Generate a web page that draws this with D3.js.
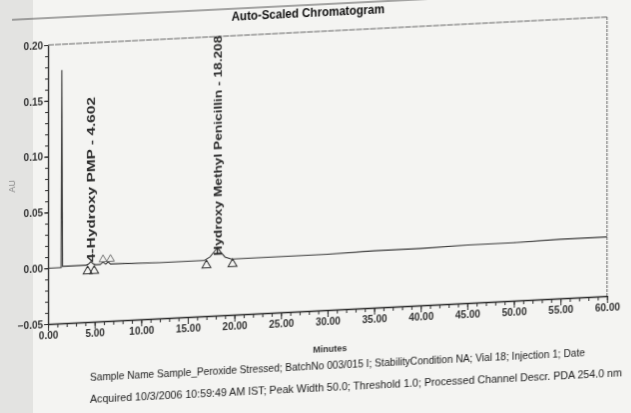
<!DOCTYPE html>
<html><head><meta charset="utf-8">
<script src="https://cdn.jsdelivr.net/npm/d3@7"></script>
<style>html,body{margin:0;padding:0;background:#f4f4f2;} svg{display:block}</style>
</head><body>
<svg id="chart" width="631" height="413"></svg>
<script>
// ---- data ----
const traceTimes  = [0, 1.40, 1.48, 1.56, 1.70, 4.10, 4.35, 4.60, 4.85, 5.10, 5.60, 5.90, 6.20, 6.45, 6.70, 7.00, 12.0, 16.8, 17.4, 17.9, 18.2, 18.5, 19.0, 19.7, 25.0, 30.0, 35.0, 40.0, 45.0, 50.0, 55.0, 60.0];
const traceValues = [0.000, 0.000, 0.177, 0.001, 0.001, 0.001, 0.002, 0.004, 0.002, 0.001, 0.001, 0.003, 0.001, 0.003, 0.001, 0.001, 0.000, 0.000, 0.003, 0.008, 0.011, 0.007, 0.002, 0.000, 0.000, 0.000, 0.001, 0.001, 0.002, 0.002, 0.003, 0.003];
const peakNames = ["4-Hydroxy PMP - 4.602", "Hydroxy Methyl Penicillin - 18.208"];
const peakTimes = [4.602, 18.208];
const boundaryMarkerTimes = [4.25, 4.95, 17.0, 19.8];
const smallMarkerTimes = [5.9, 6.7];
const xTickValues = [0, 5, 10, 15, 20, 25, 30, 35, 40, 45, 50, 55, 60];
const yTickValues = [-0.05, 0.00, 0.05, 0.10, 0.15, 0.20];
const titleText = "Auto-Scaled Chromatogram";
const xLabel = "Minutes";
const yLabel = "AU";
const footerLines = [
  "Sample Name Sample_Peroxide Stressed; BatchNo 003/015 I; StabilityCondition NA; Vial 18; Injection 1; Date",
  "Acquired 10/3/2006 10:59:49 AM IST; Peak Width 50.0; Threshold 1.0; Processed Channel Descr. PDA 254.0 nm"
];

// ---- styles ----
const peakLabelLengths = [165, 220];
const footerLengths = [495, 532];
const ink = "#2a2a2a";
const narrow = "'Liberation Sans Narrow','Arial Narrow','Liberation Sans',Arial,sans-serif";
const sans = "'Liberation Sans',Arial,sans-serif";

const svg = d3.select("#chart");
const defs = svg.append("defs");
defs.append("filter").attr("id","soft").append("feGaussianBlur").attr("stdDeviation",0.35);

svg.append("rect").attr("width",631).attr("height",413).attr("fill","#f4f4f2");
svg.append("rect").attr("width",33).attr("height",413).attr("fill","#e3e3e1");

const g = svg.append("g")
  .attr("transform","matrix(1,-0.05,0,1,0,2.4)")
  .attr("filter","url(#soft)");

const x = d3.scaleLinear().domain([0,60]).range([48,607]);
const y = d3.scaleLinear().domain([-0.05,0.20]).range([324,45]);

// outer frame line + title
g.append("line").attr("x1",12).attr("x2",640).attr("y1",18).attr("y2",18)
  .attr("stroke","#555").attr("stroke-width",1);
g.append("text").attr("x",308).attr("y",30).attr("text-anchor","middle")
  .attr("font-family",narrow).attr("font-weight","bold").attr("font-size",12.5)
  .attr("textLength",153).attr("lengthAdjust","spacingAndGlyphs")
  .attr("fill","#111").text(titleText);

// plot frame (top & right)
g.append("line").attr("x1",x(0)).attr("x2",x(60)).attr("y1",y(0.20)).attr("y2",y(0.20))
  .attr("stroke","#666").attr("stroke-width",1).attr("stroke-dasharray","6,1");
g.append("line").attr("x1",x(60)).attr("x2",x(60)).attr("y1",y(0.20)).attr("y2",y(-0.05))
  .attr("stroke","#666").attr("stroke-width",1).attr("stroke-dasharray","3,1");

// axes
const yMinor = d3.range(-5,21).map(i=>i/100);
g.append("g").attr("transform",`translate(${x(0)},0)`)
  .call(d3.axisLeft(y).tickValues(yMinor).tickSize(3).tickFormat(""))
  .call(a=>a.select(".domain").remove())
  .selectAll("line").attr("stroke",ink);
const yAx = g.append("g").attr("transform",`translate(${x(0)},0)`)
  .call(d3.axisLeft(y).tickValues(yTickValues).tickSize(4).tickSizeOuter(0).tickFormat(d3.format(".2f")));
yAx.select(".domain").attr("stroke",ink).attr("stroke-width",1.3);
yAx.selectAll("line").attr("stroke",ink);
yAx.selectAll("text").attr("font-family",narrow).attr("font-size",10).attr("font-weight","bold").attr("fill","#333").attr("dx",2);

const xMinor = d3.range(0,61);
g.append("g").attr("transform",`translate(0,${y(-0.05)})`)
  .call(d3.axisBottom(x).tickValues(xMinor).tickSize(4).tickFormat(""))
  .call(a=>a.select(".domain").remove())
  .selectAll("line").attr("stroke",ink);
const xAx = g.append("g").attr("transform",`translate(0,${y(-0.05)})`)
  .call(d3.axisBottom(x).tickValues(xTickValues).tickSize(7).tickSizeOuter(0).tickFormat(d3.format(".2f")));
xAx.select(".domain").attr("stroke",ink).attr("stroke-width",1.3);
xAx.selectAll("line").attr("stroke",ink);
xAx.selectAll("text").attr("font-family",narrow).attr("font-size",10).attr("font-weight","bold").attr("fill","#333").attr("dy","0.55em");

// axis titles
g.append("text").attr("x",330).attr("y",366).attr("text-anchor","middle")
  .attr("font-family",narrow).attr("font-weight","bold").attr("font-size",9).attr("fill","#333").text(xLabel);
g.append("text").attr("transform",`translate(15,${y(0.075)}) rotate(-90)`).attr("text-anchor","middle")
  .attr("font-family",sans).attr("font-size",9).attr("fill","#888").text(yLabel);

// trace
const pts = traceTimes.map((t,i)=>[t,traceValues[i]]);
g.append("path").datum(pts)
  .attr("d", d3.line().x(d=>x(d[0])).y(d=>y(d[1])))
  .attr("fill","none").attr("stroke","#3a3a3a").attr("stroke-width",1.1);

// peak boundary markers (open triangles)
const tri = d3.symbol().type(d3.symbolTriangle).size(34);
g.selectAll(".bm").data(boundaryMarkerTimes).join("path")
  .attr("transform",d=>`translate(${x(d)},${y(0)+5})`)
  .attr("d",tri).attr("fill","none").attr("stroke","#333").attr("stroke-width",1);
g.selectAll(".sm").data(smallMarkerTimes).join("path")
  .attr("transform",d=>`translate(${x(d)},${y(0)-6})`)
  .attr("d",d3.symbol().type(d3.symbolTriangle).size(26)).attr("fill","none").attr("stroke","#666").attr("stroke-width",0.9);

// peak labels
g.selectAll(".pl").data(peakTimes).join("text")
  .attr("transform",d=>`translate(${x(d)+4},${y(0)-4}) rotate(-90)`)
  .attr("font-family",sans).attr("font-size",11).attr("font-weight","bold")
  .attr("textLength",(d,i)=>peakLabelLengths[i]).attr("lengthAdjust","spacingAndGlyphs")
  .attr("fill","#2a2a2a").text((d,i)=>peakNames[i]);

// footer
g.selectAll(".ft").data(footerLines).join("text")
  .attr("x",90).attr("y",(d,i)=>383+i*22)
  .attr("font-family",sans).attr("font-size",10.5)
  .attr("textLength",(d,i)=>footerLengths[i]).attr("lengthAdjust","spacingAndGlyphs")
  .attr("fill","#1a1a1a").text(d=>d);
</script>
</body></html>
